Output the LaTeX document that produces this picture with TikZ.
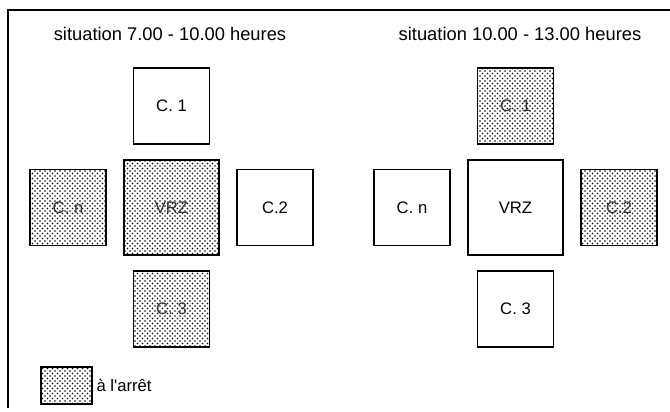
\documentclass[tikz,border=0pt]{standalone}
\usepackage{fontspec}
\setmainfont{Liberation Sans}
\usetikzlibrary{positioning}
\usetikzlibrary{patterns}

\begin{document}
\begin{tikzpicture}[x=0.6pt, y=-0.6pt, node distance=9.6pt and 10.8pt,
  caisse/.style={draw, line width=1.1pt, inner sep=0pt, outer sep=0pt, minimum size=45.6pt, font=\fontsize{10}{12}\selectfont},
  centre/.style={caisse, minimum size=57pt},
  arret/.style={pattern=crosshatch dots, pattern color=black, text=black!80}]
\tikzstyle{titre}=[font=\fontsize{11}{13}\selectfont]
\tikzstyle{texte}=[font=\fontsize{10}{12}\selectfont, inner sep=2pt]

\useasboundingbox (0,0) rectangle (670,411);
\draw [line width=0.7pt] (670,10) -- (8,10) -- (8,408);

% gauche
\node (T1) [titre] at (170, 34) {situation 7.00 - 10.00 heures};
\node (VRZa) [centre, arret] at (171.5, 207.5) {VRZ};
\node (C1a) [caisse, above=of VRZa] {C. 1};
\node (C3a) [caisse, arret, below=of VRZa] {C. 3};
\node (Cna) [caisse, arret, left=of VRZa] {C. n};
\node (C2a) [caisse, right=of VRZa] {C.2};

% droite
\node (T2) [titre] at (520, 34) {situation 10.00 - 13.00 heures};
\node (VRZb) [centre] at (515.5, 207.5) {VRZ};
\node (C1b) [caisse, arret, above=of VRZb] {C. 1};
\node (C3b) [caisse, below=of VRZb] {C. 3};
\node (Cnb) [caisse, left=of VRZb] {C. n};
\node (C2b) [caisse, arret, right=of VRZb] {C.2};

% légende
\node (leg) [draw, line width=1.1pt, arret, inner sep=0pt, minimum width=30.6pt, minimum height=22.2pt] at (66.5, 385.5) {};
\node (legt) [texte, right=0pt of leg] {à l\textquotesingle arrêt};
\end{tikzpicture}
\end{document}
